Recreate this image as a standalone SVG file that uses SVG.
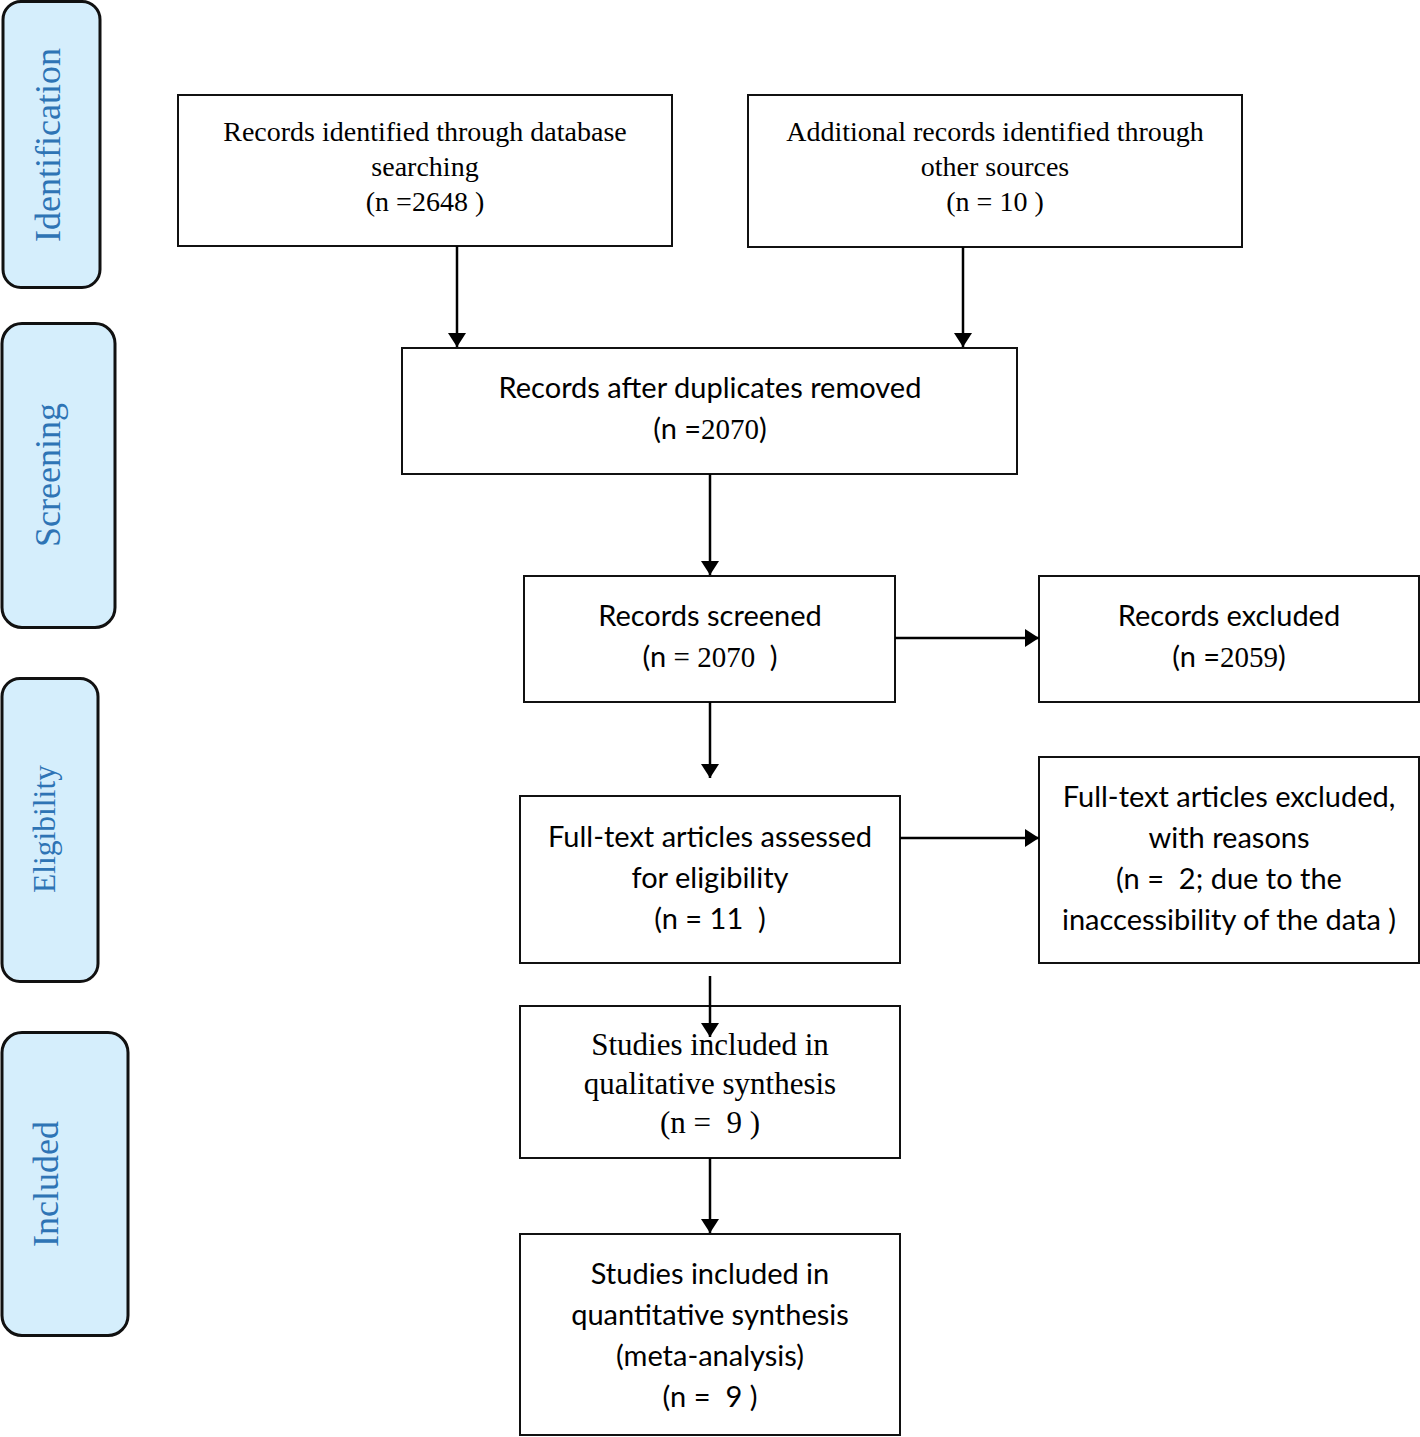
<svg xmlns="http://www.w3.org/2000/svg" width="1420" height="1437" viewBox="0 0 1420 1437">
<defs>
<style>
.side{fill:#d5eefc;stroke:#111;stroke-width:3}
.sl{font-family:"Liberation Serif",serif;fill:#2e74b5;text-anchor:middle}
.box{fill:#fff;stroke:#111;stroke-width:2}
.sr{font-family:"Liberation Serif",serif;font-size:28px;fill:#000;text-anchor:middle}
.sr2{font-family:"Liberation Serif",serif;font-size:31px;fill:#000;text-anchor:middle}
.ss{font-family:Lato,"Liberation Sans",sans-serif;font-size:29px;fill:#000;text-anchor:middle}
.tm{font-family:"Liberation Serif",serif}
.cn{stroke:#000;stroke-width:2.5;fill:none;marker-end:url(#ah)}
</style>
<marker id="ah" viewBox="0 0 14 18" refX="14" refY="9" markerWidth="14" markerHeight="18" markerUnits="userSpaceOnUse" orient="auto">
<path d="M0,0 L14,9 L0,18 Z" fill="#000"/>
</marker>
</defs>
<rect width="1420" height="1437" fill="#fff"/>

<g id="phase-identification">
<rect class="side" x="3" y="1.5" width="97" height="286" rx="18"/>
<text class="sl" font-size="36" transform="translate(60,145) rotate(-90)">Identification</text>
</g>
<g id="phase-screening">
<rect class="side" x="2" y="323.5" width="113" height="304" rx="20"/>
<text class="sl" font-size="36" transform="translate(60,475) rotate(-90)">Screening</text>
</g>
<g id="phase-eligibility">
<rect class="side" x="2" y="678.5" width="96" height="303" rx="18"/>
<text class="sl" font-size="31.5" transform="translate(55,829) rotate(-90)">Eligibility</text>
</g>
<g id="phase-included">
<rect class="side" x="2" y="1032.5" width="126" height="303" rx="20"/>
<text class="sl" font-size="36" transform="translate(58,1184) rotate(-90)">Included</text>
</g>

<g id="n1">
<rect class="box" x="178" y="95" width="494" height="151"/>
<text class="sr" x="425" y="141">Records identified through database</text>
<text class="sr" x="425" y="176">searching</text>
<text class="sr" x="425" y="211">(n =2648 )</text>
</g>
<g id="n2">
<rect class="box" x="748" y="95" width="494" height="152"/>
<text class="sr" x="995" y="141">Additional records identified through</text>
<text class="sr" x="995" y="176">other sources</text>
<text class="sr" x="995" y="211">(n = 10 )</text>
</g>
<g id="n3">
<rect class="box" x="402" y="348" width="615" height="126"/>
<text class="ss" x="710" y="398">Records after duplicates removed</text>
<text class="ss" x="710" y="439">(n =<tspan class="tm">2070</tspan>)</text>
</g>
<g id="n4">
<rect class="box" x="524" y="576" width="371" height="126"/>
<text class="ss" x="710" y="626">Records screened</text>
<text class="ss" x="710" y="667" xml:space="preserve">(n <tspan class="tm">= 2070 </tspan> )</text>
</g>
<g id="n5">
<rect class="box" x="1039" y="576" width="380" height="126"/>
<text class="ss" x="1229" y="626">Records excluded</text>
<text class="ss" x="1229" y="667">(n =<tspan class="tm">2059</tspan>)</text>
</g>
<g id="n6">
<rect class="box" x="520" y="796" width="380" height="167"/>
<text class="ss" x="710" y="847">Full-text articles assessed</text>
<text class="ss" x="710" y="888">for eligibility</text>
<text class="ss" x="710" y="929" xml:space="preserve">(n = 11  )</text>
</g>
<g id="n7">
<rect class="box" x="1039" y="757" width="380" height="206"/>
<text class="ss" x="1229" y="807">Full-text articles excluded,</text>
<text class="ss" x="1229" y="848">with reasons</text>
<text class="ss" x="1229" y="889" xml:space="preserve">(n =  2; due to the</text>
<text class="ss" x="1229" y="930">inaccessibility of the data )</text>
</g>
<g id="n8">
<rect class="box" x="520" y="1006" width="380" height="152"/>
<text class="sr2" x="710" y="1055">Studies included in</text>
<text class="sr2" x="710" y="1094">qualitative synthesis</text>
<text class="sr2" x="710" y="1133" xml:space="preserve">(n =  9 )</text>
</g>
<g id="n9">
<rect class="box" x="520" y="1234" width="380" height="201"/>
<text class="ss" x="710" y="1284">Studies included in</text>
<text class="ss" x="710" y="1325">quantitative synthesis</text>
<text class="ss" x="710" y="1366">(meta-analysis)</text>
<text class="ss" x="710" y="1407" xml:space="preserve">(n =  9 )</text>
</g>

<g id="connectors">
<line class="cn" x1="457" y1="246" x2="457" y2="347"/>
<line class="cn" x1="963" y1="247" x2="963" y2="347"/>
<line class="cn" x1="710" y1="474" x2="710" y2="575"/>
<line class="cn" x1="895" y1="638" x2="1039" y2="638"/>
<line class="cn" x1="710" y1="702" x2="710" y2="778"/>
<line class="cn" x1="900" y1="838" x2="1039" y2="838"/>
<line class="cn" x1="710" y1="976" x2="710" y2="1037"/>
<line class="cn" x1="710" y1="1158" x2="710" y2="1233"/>
</g>
</svg>
